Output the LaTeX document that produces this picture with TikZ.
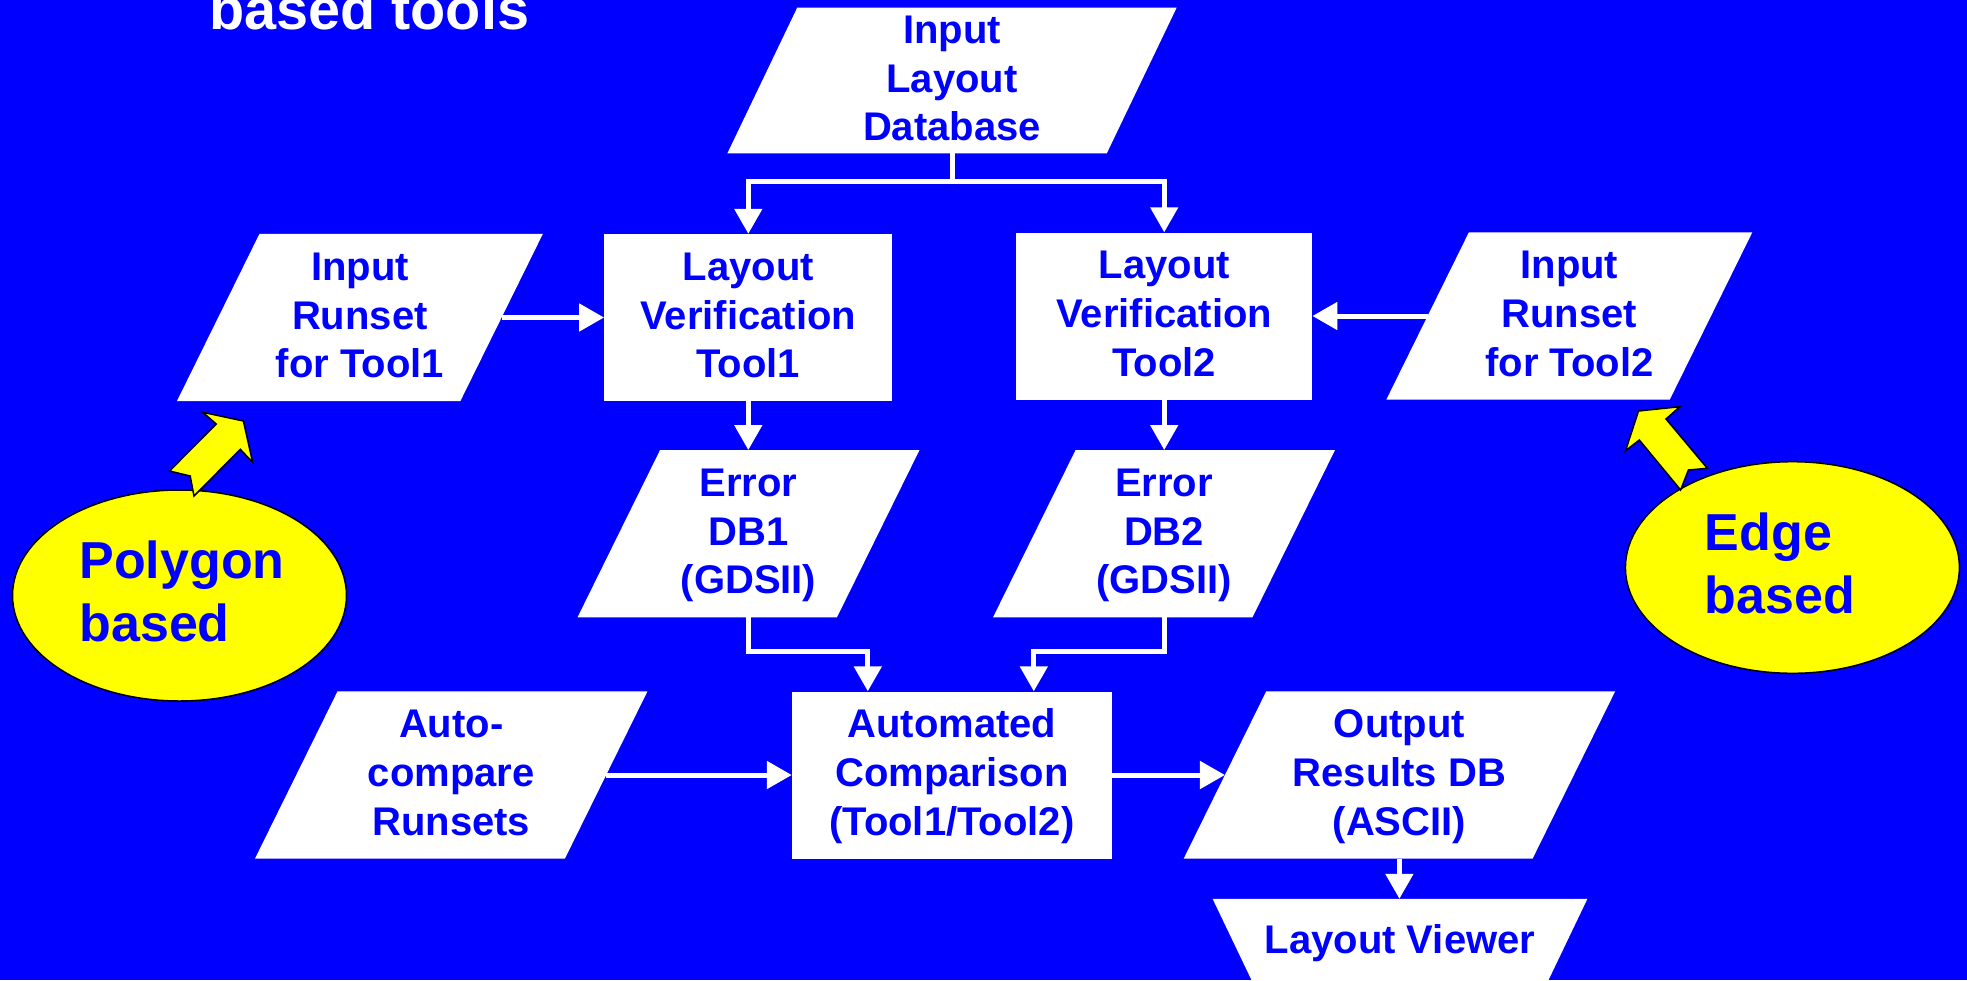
\documentclass[tikz,border=0pt]{standalone}
\usepackage{fontspec}
\setmainfont{Liberation Sans}
\usetikzlibrary{arrows.meta,calc,shapes.geometric}

\definecolor{slideblue}{RGB}{0,0,255}
\definecolor{noteyellow}{RGB}{255,255,0}

\pgfdeclarelayer{bg}
\pgfsetlayers{bg,main}

% rows of text with a fixed pitch, centred as a block on the node
\newcommand\txtstack[2]{%
  \setbox\strutbox\hbox{\vrule height .894em depth .319em width 0pt}%
  \begin{tabular}{#1}#2\end{tabular}}
\newcommand\txtlines[1]{\txtstack{@{}c@{}}{#1}}

% white parallelogram behind a node; #2 is half of the horizontal slant
\newcommand\slantfill[2]{%
  \fill[white] ($(#1.north west)+(#2,0)$) -- ($(#1.north east)+(#2,0)$)
    -- ($(#1.south east)-(#2,0)$) -- ($(#1.south west)-(#2,0)$) -- cycle;}

\begin{document}
\begin{tikzpicture}[x=1pt,y=-1pt,
  box/.style={rectangle, inner sep=0pt, minimum height=167pt, text=slideblue,
    font=\fontsize{40}{48}\selectfont\bfseries},
  plain/.style={box, fill=white},
  conn/.style={draw=white, line width=5pt, -{Triangle[width=27pt,length=25pt]}},
  bubble/.style={ellipse, inner sep=0pt, fill=noteyellow, draw=black, line width=1.5pt,
    text=slideblue, font=\fontsize{52}{62}\selectfont\bfseries},
  pointer/.style={fill=noteyellow, draw=black, line width=1.5pt, line join=miter}]

\useasboundingbox (0,0) rectangle (1967,980);
\begin{pgfonlayer}{bg}
  \fill[slideblue] (0,0) rectangle (1967,980);
\end{pgfonlayer}

% heading (its first line lies above the page)
\node[anchor=base west, inner sep=0pt, text=white,
      font=\fontsize{57.6}{60}\selectfont\bfseries] (title) at (209,29) {based tools};

% flow chart nodes
\node[box, minimum width=379pt, minimum height=142.4pt] (ild) at (952,80.5)
  {\txtlines{Input\\Layout\\Database}};
\node[box, minimum width=283pt] (irt1) at (359.9,317.5)
  {\txtlines{Input\\Runset\\for Tool1}};
\node[plain, minimum width=288pt] (t1) at (748.3,317.5)
  {\txtlines{Layout\\Verification\\Tool1}};
\node[plain, minimum width=296pt] (t2) at (1164.2,316)
  {\txtlines{Layout\\Verification\\Tool2}};
\node[box, minimum width=283pt] (irt2) at (1569.3,316)
  {\txtlines{Input\\Runset\\for Tool2}};
\node[box, minimum width=259pt] (e1) at (748.5,533.7)
  {\txtlines{Error\\DB1\\(GDSII)}};
\node[box, minimum width=259pt] (e2) at (1164,533.7)
  {\txtlines{Error\\DB2\\(GDSII)}};
\node[box, minimum width=309.5pt] (acr) at (451.2,775)
  {\txtlines{Auto-\\compare\\Runsets}};
\node[plain, minimum width=319.6pt] (ac) at (951.8,775)
  {\txtlines{Automated\\Comparison\\(Tool1/Tool2)}};
\node[box, minimum width=348.5pt] (out) at (1399.4,775)
  {\txtlines{Output\\Results DB\\(ASCII)}};
\node[box, minimum width=374.4pt, minimum height=85.6pt] (lv) at (1400,941.8)
  {\txtlines{Layout Viewer}};

% white shapes behind the data nodes
\begin{pgfonlayer}{bg}
  \slantfill{ild}{35}
  \slantfill{irt1}{41.3}
  \slantfill{irt2}{41.3}
  \slantfill{e1}{41.3}
  \slantfill{e2}{41.3}
  \slantfill{acr}{41.3}
  \slantfill{out}{41.3}
  \fill[white] (lv.north west) -- (lv.north east)
    -- ($(lv.south east)+(-41.2,0)$) -- ($(lv.south west)+(41.2,0)$) -- cycle;
\end{pgfonlayer}

% connectors
\draw[conn] (ild.south) -- ++(0,28.3) -| (t1.north);
\draw[conn] (ild.south) -- ++(0,28.3) -| (t2.north);
\draw[conn] (irt1.east) -- (t1.west);
\draw[conn] (irt2.west) -- (t2.east);
\draw[conn] (t1.south) -- (t1.south |- e1.north);
\draw[conn] (t2.south) -- (t2.south |- e2.north);
\draw[conn] (e1.south) -- ++(0,33.7) -| ([xshift=-84pt]ac.north);
\draw[conn] (e2.south) -- ++(0,33.7) -| ([xshift=82pt]ac.north);
\draw[conn] (acr.east) -- (ac.west);
\draw[conn] (ac.east) -- (out.west);
\draw[conn] (out.south) -- (out.south |- lv.north);

% yellow notes with their block arrows
\node[bubble, minimum width=334pt, minimum height=211pt] (poly) at (179.5,595.5)
  {\txtstack{@{\hspace{5pt}}l@{}}{Polygon\\based}};
\node[bubble, minimum width=334pt, minimum height=211.6pt] (edge) at (1792.4,567.5)
  {\txtstack{@{}l@{\hspace{25pt}}}{Edge\\based}};

\draw[pointer] (194.0,496) -- (190.2,476) -- (169.5,471) -- (216.2,424)
  -- (202.8,412.3) -- (243.4,421) -- (252.6,462.3) -- (240.3,449.3) -- cycle;
\draw[pointer] (1638.5,411) -- (1679.8,406.7) -- (1666.0,419) -- (1707.3,468.3)
  -- (1688.4,470) -- (1680.6,490) -- (1639.3,440) -- (1625.5,450.7) -- cycle;

\end{tikzpicture}
\end{document}
